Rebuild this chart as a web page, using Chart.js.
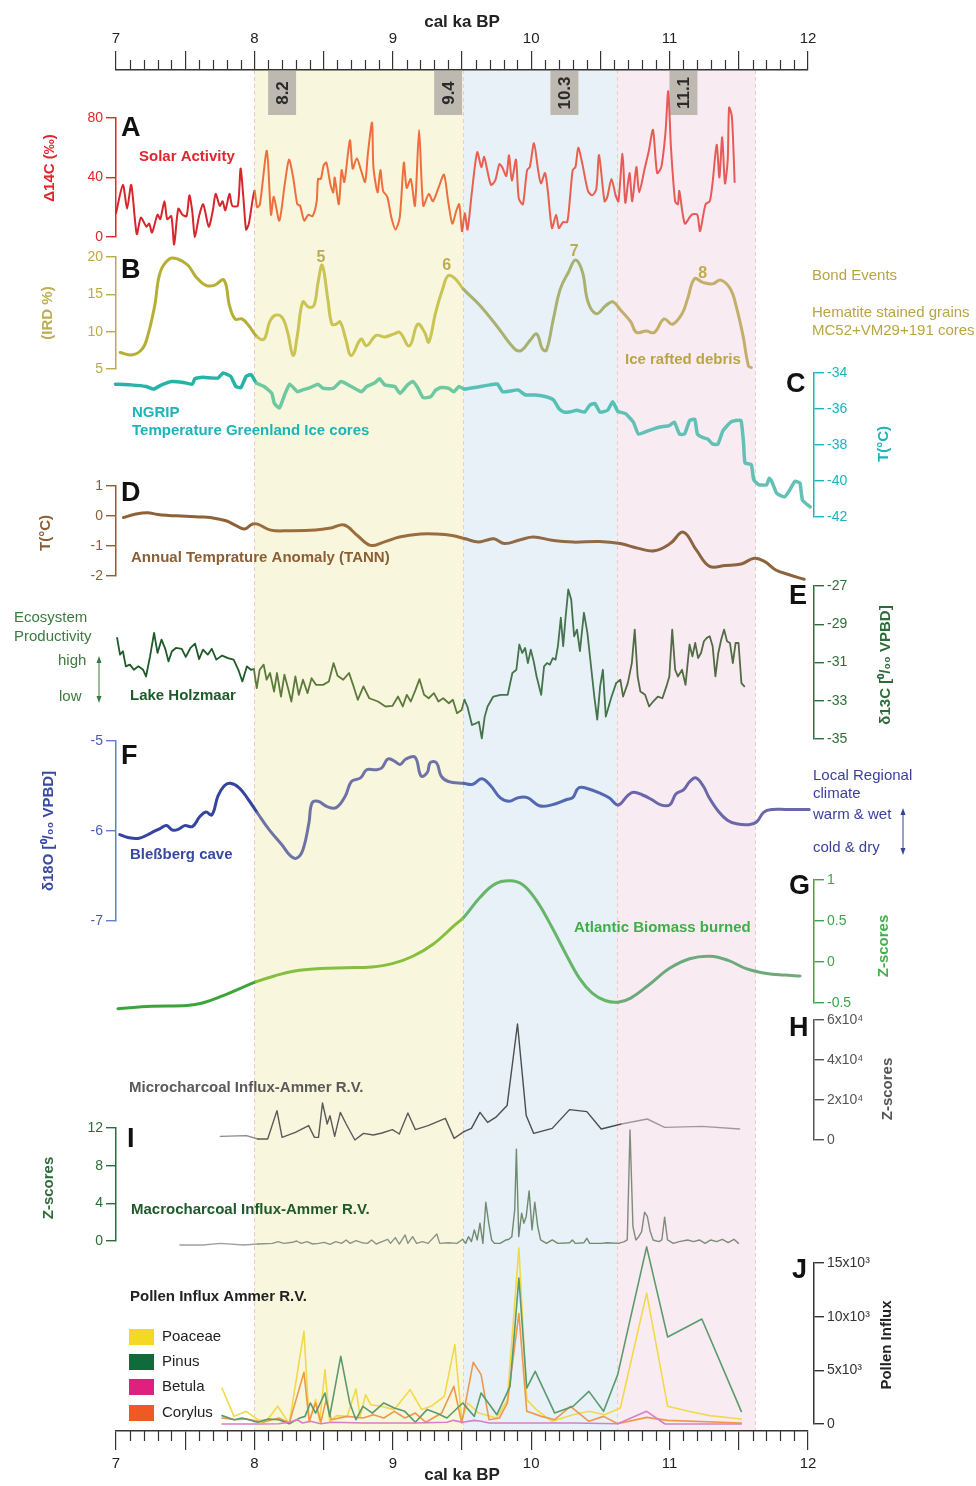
<!DOCTYPE html>
<html>
<head>
<meta charset="utf-8">
<script src="https://cdn.jsdelivr.net/npm/chart.js@4.4.1/dist/chart.umd.min.js"></script>
<style>
  body { margin: 0; background: #fff; }
  #wrap { position: relative; width: 976px; height: 1486px; }
  #wrap canvas { position: absolute; left: 0; top: 0; }
</style>
</head>
<body>
<div id="wrap"></div>
<script>
// ---- data (age in cal ka BP, value) ----
const bandEdges = [8.0, 9.51, 10.62, 11.62];
const eventLabels = ["8.2", "9.4", "10.3", "11.1"];
const eventAges = [8.2, 9.4, 10.24, 11.1];

// A - solar activity, delta 14C (permil)
const solar = [[7.00,16],[7.05,35],[7.08,19],[7.11,35],[7.15,2],[7.18,13],[7.22,7],[7.24,9],[7.26,3],[7.30,15],[7.32,12],[7.35,24],[7.37,12],[7.40,14],[7.42,-5],[7.45,19],[7.48,15],[7.51,14],[7.53,28],[7.55,18],[7.57,0],[7.60,14],[7.63,22],[7.67,7],[7.70,18],[7.72,29],[7.75,21],[7.77,24],[7.79,18],[7.82,29],[7.84,21],[7.88,21],[7.90,46],[7.92,27],[7.94,5],[7.96,9],[8.00,31],[8.02,20],
  [8.04,22],[8.09,58],[8.12,15],[8.14,27],[8.18,11],[8.22,36],[8.25,52],[8.28,40],[8.31,22],[8.33,21],[8.36,11],[8.39,15],[8.42,14],[8.45,24],[8.46,39],[8.48,39],[8.50,48],[8.52,50],[8.55,35],[8.57,30],[8.58,40],[8.61,22],[8.63,45],[8.65,37],[8.69,65],[8.71,46],[8.74,53],[8.77,45],[8.80,37],[8.82,56],[8.85,77],[8.86,47],[8.89,30],[8.91,45],[8.93,31],[8.96,27],[8.99,13],[9.02,5],[9.05,13],[9.08,50],[9.10,33],[9.13,39],[9.16,21],[9.19,72],[9.22,21],[9.26,29],[9.29,24],[9.33,33],[9.37,42],[9.40,24],[9.43,9],[9.46,18],[9.48,22],[9.50,4],
  [9.52,16],[9.54,5],[9.57,29],[9.61,57],[9.64,47],[9.66,54],[9.68,46],[9.71,35],[9.74,38],[9.77,49],[9.79,47],[9.82,41],[9.84,55],[9.86,38],[9.89,52],[9.91,26],[9.94,22],[9.97,45],[9.99,47],[10.02,63],[10.05,45],[10.07,36],[10.10,43],[10.12,31],[10.15,6],[10.18,15],[10.20,6],[10.23,10],[10.26,10],[10.28,26],[10.30,45],[10.32,47],[10.34,60],[10.37,49],[10.41,31],[10.44,28],[10.47,32],[10.49,55],[10.53,24],[10.55,27],[10.58,39],[10.61,28],[10.63,24],
  [10.66,56],[10.68,23],[10.71,43],[10.73,24],[10.76,47],[10.78,30],[10.82,46],[10.85,58],[10.88,72],[10.91,43],[10.94,47],[10.97,70],[10.99,98],[11.01,60],[11.04,24],[11.06,22],[11.07,31],[11.11,9],[11.16,15],[11.20,15],[11.22,4],[11.26,22],[11.29,24],[11.31,36],[11.34,62],[11.36,40],[11.38,67],[11.40,36],[11.42,52],[11.43,87],[11.45,81],[11.47,37]];

// B - ice rafted debris (IRD %)
const ird = [[7.03,7.2],[7.12,6.9],[7.19,7.7],[7.23,9.5],[7.28,13.5],[7.32,18],[7.39,19.8],[7.45,19.7],[7.52,18.9],[7.58,17.3],[7.65,16.2],[7.71,16.2],[7.78,16.9],[7.82,13.5],[7.86,11.7],[7.91,11.7],[7.96,10.8],[8.02,9.3],[8.07,9.0],[8.11,11.3],[8.15,12.2],[8.20,11.9],[8.24,9.9],[8.28,6.8],[8.31,9.5],[8.35,14],[8.39,13.3],[8.43,13.5],[8.46,16.6],[8.49,18.9],[8.53,14.4],[8.56,11],[8.59,11],[8.62,11.3],[8.66,9],[8.70,6.8],[8.77,9],[8.81,8.1],[8.88,9.5],[8.94,9.3],[9.01,9.7],[9.05,9.9],[9.12,8.1],[9.18,11],[9.23,9.9],[9.26,8.6],[9.31,12.6],[9.36,15.7],[9.40,17.5],[9.45,17.1],[9.51,15.7],[9.62,13.7],[9.75,10.8],[9.88,7.7],[9.93,7.5],[9.99,8.8],[10.04,9.7],[10.08,7.7],[10.11,7.5],[10.16,11.7],[10.21,15.7],[10.27,18],[10.32,19.6],[10.37,18],[10.41,14],[10.47,12.4],[10.54,13.5],[10.59,14],[10.65,12.8],[10.72,11.3],[10.76,9.9],[10.83,10.1],[10.89,9.9],[10.96,11.7],[11.02,11],[11.09,12.4],[11.13,14.4],[11.18,17.1],[11.24,16.6],[11.31,16.4],[11.37,16.9],[11.44,15.7],[11.48,13.5],[11.53,9.5],[11.57,5.4],[11.59,5.2]];

// C - NGRIP temperature (deg C)
const ngrip = [[6.996,-34.62],[7.107,-34.66],[7.218,-34.75],[7.273,-34.89],[7.329,-34.66],[7.403,-34.47],[7.477,-34.51],[7.551,-34.62],[7.570,-34.32],[7.625,-34.24],[7.737,-34.28],[7.774,-34.0],[7.829,-34.19],[7.866,-34.75],[7.903,-34.81],[7.940,-34.19],[7.977,-34.09],[8.014,-34.56],[8.070,-34.75],[8.126,-35.13],[8.144,-35.69],[8.181,-35.94],[8.218,-35.22],[8.255,-34.62],[8.311,-35.04],[8.348,-34.94],[8.403,-34.81],[8.459,-34.62],[8.496,-34.85],[8.570,-34.85],[8.626,-34.47],[8.700,-34.75],[8.774,-35.04],[8.811,-34.75],[8.867,-34.56],[8.904,-34.32],[8.941,-34.66],[9.015,-34.75],[9.052,-35.13],[9.107,-34.66],[9.145,-34.47],[9.182,-34.85],[9.219,-35.37],[9.274,-35.32],[9.311,-34.94],[9.348,-34.81],[9.404,-34.85],[9.441,-35.04],[9.478,-34.75],[9.515,-34.89],[9.589,-34.81],[9.700,-34.66],[9.756,-34.62],[9.793,-35.04],[9.848,-35.0],[9.904,-34.94],[9.960,-35.22],[10.034,-35.22],[10.108,-35.32],[10.163,-35.51],[10.200,-35.98],[10.237,-36.17],[10.275,-36.17],[10.330,-36.07],[10.386,-36.17],[10.423,-35.79],[10.460,-35.69],[10.497,-36.17],[10.552,-36.07],[10.589,-35.60],[10.626,-36.13],[10.682,-36.26],[10.738,-36.73],[10.775,-37.39],[10.849,-37.20],[10.923,-37.01],[10.997,-36.92],[11.034,-36.73],[11.071,-37.39],[11.108,-37.39],[11.145,-36.64],[11.182,-36.58],[11.201,-37.39],[11.238,-37.58],[11.275,-37.67],[11.312,-37.95],[11.349,-37.95],[11.386,-37.20],[11.442,-36.73],[11.479,-36.64],[11.516,-36.64],[11.534,-37.86],[11.545,-38.99],[11.590,-39.08],[11.608,-39.93],[11.645,-40.21],[11.701,-40.21],[11.720,-39.84],[11.738,-40.02],[11.775,-40.69],[11.831,-40.88],[11.868,-40.50],[11.905,-40.02],[11.942,-40.12],[11.960,-41.06],[12.016,-41.44]];

// D - annual temperature anomaly TANN (deg C)
const tann = [[7.054,-0.05],[7.130,0.05],[7.225,0.11],[7.301,0.05],[7.377,0.02],[7.472,0],[7.605,-0.03],[7.681,-0.05],[7.795,-0.16],[7.871,-0.33],[7.928,-0.43],[7.985,-0.27],[8.023,-0.27],[8.118,-0.47],[8.251,-0.49],[8.441,-0.47],[8.555,-0.40],[8.649,-0.30],[8.744,-0.65],[8.839,-0.98],[8.934,-0.87],[9.048,-0.70],[9.200,-0.60],[9.314,-0.60],[9.428,-0.65],[9.523,-0.76],[9.618,-0.87],[9.675,-0.81],[9.732,-0.76],[9.808,-0.92],[9.922,-0.79],[10.017,-0.70],[10.150,-0.81],[10.302,-0.87],[10.492,-0.85],[10.643,-0.92],[10.776,-1.08],[10.890,-1.16],[11.004,-0.92],[11.099,-0.54],[11.194,-1.14],[11.289,-1.68],[11.403,-1.65],[11.517,-1.60],[11.612,-1.41],[11.688,-1.52],[11.764,-1.79],[11.859,-1.95],[11.973,-2.11]];

// E - Lake Holzmaar d13C (permil VPDB)
const holzmaar = [[7.008,-29.71],[7.029,-30.59],[7.050,-30.41],[7.071,-31.20],[7.100,-31.11],[7.129,-31.38],[7.162,-31.20],[7.196,-31.38],[7.217,-31.73],[7.246,-30.68],[7.275,-29.45],[7.300,-30.50],[7.329,-29.80],[7.358,-30.33],[7.379,-30.94],[7.404,-30.41],[7.433,-30.24],[7.475,-30.29],[7.504,-30.71],[7.538,-30.24],[7.571,-30.01],[7.600,-30.82],[7.629,-30.33],[7.663,-30.59],[7.692,-30.28],[7.725,-30.85],[7.767,-30.64],[7.809,-30.77],[7.850,-30.85],[7.884,-31.38],[7.913,-31.99],[7.946,-31.20],[7.975,-31.38],[7.996,-31.34],[8.017,-32.34],[8.038,-31.38],[8.067,-31.11],[8.088,-31.90],[8.113,-31.55],[8.142,-32.52],[8.163,-31.55],[8.192,-32.78],[8.217,-31.64],[8.246,-32.43],[8.267,-33.04],[8.296,-31.73],[8.321,-32.69],[8.351,-31.90],[8.384,-32.60],[8.413,-31.82],[8.446,-32.17],[8.496,-32.17],[8.538,-31.99],[8.572,-31.03],[8.601,-31.69],[8.642,-31.90],[8.684,-31.55],[8.713,-32.17],[8.747,-32.95],[8.788,-32.25],[8.830,-32.87],[8.893,-33.04],[8.947,-33.30],[8.997,-33.27],[9.038,-32.78],[9.072,-33.30],[9.101,-32.69],[9.130,-33.04],[9.164,-32.43],[9.193,-31.87],[9.226,-32.69],[9.259,-32.87],[9.297,-32.60],[9.330,-33.04],[9.364,-32.87],[9.405,-33.13],[9.434,-32.95],[9.464,-33.65],[9.497,-33.48],[9.518,-32.95],[9.539,-33.30],[9.572,-34.27],[9.601,-34.18],[9.622,-34.10],[9.643,-34.97],[9.664,-33.83],[9.685,-33.30],[9.726,-32.78],[9.780,-32.69],[9.830,-32.69],[9.864,-31.55],[9.893,-31.38],[9.914,-30.06],[9.935,-30.50],[9.956,-30.24],[9.976,-31.03],[9.997,-30.33],[10.018,-30.94],[10.039,-31.73],[10.072,-32.69],[10.093,-31.20],[10.114,-31.03],[10.135,-31.11],[10.156,-30.77],[10.176,-30.85],[10.193,-30.15],[10.214,-28.66],[10.231,-30.15],[10.247,-28.75],[10.268,-27.18],[10.289,-27.70],[10.310,-29.63],[10.331,-29.28],[10.352,-30.41],[10.381,-28.40],[10.406,-29.45],[10.435,-31.38],[10.456,-32.78],[10.477,-33.99],[10.498,-32.25],[10.518,-31.38],[10.539,-33.83],[10.560,-33.30],[10.581,-32.78],[10.614,-32.08],[10.644,-31.90],[10.664,-32.78],[10.698,-32.08],[10.727,-31.03],[10.748,-29.28],[10.769,-31.73],[10.789,-32.52],[10.823,-32.69],[10.852,-33.30],[10.881,-33.04],[10.915,-32.78],[10.948,-32.87],[10.977,-32.25],[10.998,-31.73],[11.019,-29.28],[11.040,-31.38],[11.060,-31.73],[11.090,-31.38],[11.115,-32.17],[11.144,-30.06],[11.165,-30.68],[11.185,-29.98],[11.206,-30.77],[11.227,-30.50],[11.248,-29.89],[11.269,-29.71],[11.290,-29.63],[11.311,-30.15],[11.331,-31.73],[11.352,-30.50],[11.373,-29.80],[11.394,-29.28],[11.415,-29.89],[11.436,-29.98],[11.457,-31.03],[11.477,-29.98],[11.498,-29.98],[11.519,-32.08],[11.540,-32.25]];

// F - Blessberg cave d18O (permil VPDB)
const blessberg = [[7.027,-6.04],[7.080,-6.07],[7.167,-6.08],[7.255,-6.02],[7.321,-5.97],[7.365,-5.94],[7.408,-5.99],[7.452,-5.98],[7.496,-5.94],[7.553,-5.95],[7.606,-5.84],[7.649,-5.79],[7.693,-5.82],[7.737,-5.61],[7.781,-5.50],[7.825,-5.47],[7.890,-5.52],[7.956,-5.65],[8.022,-5.80],[8.109,-5.99],[8.197,-6.15],[8.263,-6.28],[8.307,-6.30],[8.350,-6.21],[8.394,-5.91],[8.416,-5.69],[8.460,-5.67],[8.526,-5.73],[8.591,-5.74],[8.657,-5.61],[8.701,-5.45],[8.767,-5.41],[8.811,-5.32],[8.876,-5.32],[8.920,-5.30],[8.964,-5.20],[9.008,-5.22],[9.052,-5.26],[9.095,-5.20],[9.161,-5.18],[9.205,-5.39],[9.249,-5.35],[9.271,-5.24],[9.315,-5.24],[9.350,-5.39],[9.402,-5.45],[9.512,-5.47],[9.577,-5.48],[9.643,-5.42],[9.709,-5.50],[9.775,-5.63],[9.840,-5.67],[9.906,-5.63],[9.972,-5.63],[10.059,-5.72],[10.147,-5.71],[10.257,-5.65],[10.300,-5.63],[10.344,-5.52],[10.410,-5.53],[10.498,-5.58],[10.563,-5.63],[10.629,-5.71],[10.695,-5.61],[10.739,-5.57],[10.804,-5.60],[10.870,-5.65],[10.936,-5.71],[11.001,-5.71],[11.045,-5.59],[11.102,-5.54],[11.146,-5.45],[11.190,-5.41],[11.243,-5.50],[11.286,-5.63],[11.352,-5.78],[11.418,-5.88],[11.484,-5.92],[11.571,-5.93],[11.628,-5.90],[11.681,-5.79],[11.746,-5.76],[11.834,-5.76],[12.009,-5.76]];

// G - Atlantic biomass burned (z-scores)
const biomass = [[7.014,-0.57],[7.255,-0.54],[7.514,-0.53],[7.625,-0.50],[7.774,-0.41],[7.885,-0.33],[8.014,-0.24],[8.144,-0.17],[8.292,-0.11],[8.478,-0.08],[8.663,-0.07],[8.848,-0.06],[8.996,-0.02],[9.145,0.07],[9.293,0.22],[9.441,0.44],[9.515,0.55],[9.626,0.78],[9.737,0.95],[9.848,0.99],[9.941,0.94],[10.034,0.76],[10.145,0.44],[10.256,0.08],[10.349,-0.20],[10.441,-0.38],[10.534,-0.47],[10.627,-0.49],[10.719,-0.44],[10.849,-0.28],[10.997,-0.08],[11.145,0.04],[11.293,0.07],[11.423,0.02],[11.553,-0.08],[11.701,-0.14],[11.830,-0.16],[11.942,-0.17]];

// H - microcharcoal influx, Ammer R.V.
const microCharcoal = [[7.754,1800],[7.942,2200],[8.025,500],[8.096,500],[8.163,14700],[8.200,1300],[8.296,3800],[8.392,7200],[8.434,1300],[8.463,1300],[8.492,18500],[8.526,8000],[8.546,12200],[8.580,1800],[8.621,13800],[8.663,8000],[8.726,0],[8.788,3300],[8.859,2500],[8.922,3500],[8.997,5200],[9.047,3000],[9.109,13500],[9.163,5200],[9.255,7200],[9.380,10800],[9.443,800],[9.514,4200],[9.568,5800],[9.630,13800],[9.685,8800],[9.743,11300],[9.826,17200],[9.901,58000],[9.964,12200],[10.018,3300],[10.152,5800],[10.277,15200],[10.402,14200],[10.506,5500],[10.652,8000],[10.839,10500],[10.964,6300],[11.235,6800],[11.506,5500]];

// I - macrocharcoal influx, Ammer R.V. (z-scores)
const macroCharcoal = [[7.462,-0.43],[7.629,-0.43],[7.754,-0.25],[7.921,-0.43],[8.025,-0.32],[8.130,-0.25],[8.171,-0.07],[8.213,-0.25],[8.275,-0.14],[8.305,0],[8.338,-0.25],[8.380,-0.07],[8.421,-0.32],[8.463,-0.25],[8.505,-0.14],[8.546,-0.36],[8.588,-0.07],[8.630,-0.25],[8.663,0.11],[8.692,-0.25],[8.734,0.04],[8.776,-0.18],[8.817,-0.25],[8.847,0.11],[8.880,-0.32],[8.922,-0.07],[8.963,0.18],[8.984,-0.25],[9.018,0.36],[9.047,-0.32],[9.089,0.64],[9.109,-0.25],[9.143,0.46],[9.172,-0.25],[9.214,-0.07],[9.255,-0.25],[9.318,0.75],[9.339,-0.25],[9.401,-0.18],[9.464,-0.25],[9.505,0.18],[9.526,-0.25],[9.547,0.46],[9.568,-0.07],[9.589,1.18],[9.610,0.11],[9.630,1.89],[9.651,-0.25],[9.672,4.11],[9.693,1.89],[9.714,0.11],[9.735,-0.25],[9.776,-0.25],[9.818,0.11],[9.839,0.18],[9.860,0.46],[9.881,3.32],[9.893,9.75],[9.910,0.46],[9.931,2.96],[9.947,1.89],[9.964,2.61],[9.985,5.32],[10.006,1.18],[10.026,4.11],[10.047,1.54],[10.068,0.11],[10.110,-0.25],[10.152,0.11],[10.193,-0.25],[10.277,-0.18],[10.298,0.11],[10.318,-0.25],[10.381,-0.18],[10.402,0.29],[10.423,-0.25],[10.506,-0.25],[10.548,-0.18],[10.631,-0.25],[10.673,-0.07],[10.694,0.11],[10.714,11.79],[10.735,1.54],[10.756,0.11],[10.777,0.46],[10.798,1.0],[10.819,3.07],[10.839,2.61],[10.860,1.0],[10.881,0.11],[10.923,-0.07],[10.944,0.11],[10.964,2.54],[10.985,0.11],[11.027,-0.25],[11.069,-0.07],[11.131,0.11],[11.173,-0.07],[11.215,0.11],[11.256,-0.25],[11.298,0.11],[11.340,-0.07],[11.381,0.18],[11.423,-0.18],[11.465,0.18],[11.498,-0.25]];

// J - pollen influx, Ammer R.V.
const pollenTaxa = ["Poaceae", "Pinus", "Betula", "Corylus"];
const poaceae = [[7.766,3350],[7.853,710],[7.940,1180],[8.024,400],[8.092,340],[8.168,1650],[8.252,30],[8.358,8630],[8.396,160],[8.442,2270],[8.472,250],[8.510,5060],[8.544,250],[8.594,780],[8.670,710],[8.734,3260],[8.764,710],[8.803,2730],[8.840,1800],[8.916,1650],[9.011,1340],[9.125,3200],[9.209,1340],[9.277,1650],[9.372,2580],[9.448,7390],[9.498,400],[9.543,1960],[9.619,1020],[9.752,560],[9.828,2270],[9.911,16400],[9.968,2270],[10.037,1340],[10.151,250],[10.303,870],[10.417,1180],[10.530,870],[10.644,1490],[10.834,12200],[10.986,1650],[11.138,1180],[11.290,780],[11.518,470]];
const pinus = [[7.766,780],[7.853,400],[7.910,560],[8.024,160],[8.100,470],[8.176,400],[8.252,30],[8.328,560],[8.366,710],[8.404,1960],[8.442,1020],[8.510,2890],[8.544,710],[8.624,6300],[8.689,1960],[8.734,400],[8.784,1650],[8.852,1020],[8.935,1960],[9.011,1490],[9.087,1180],[9.163,160],[9.247,1340],[9.315,1020],[9.391,560],[9.505,1960],[9.589,710],[9.638,2890],[9.752,870],[9.847,3510],[9.911,13600],[9.968,3350],[10.029,4910],[10.170,1020],[10.303,1650],[10.417,3040],[10.523,1180],[10.625,4600],[10.682,7860],[10.834,16500],[10.986,8100],[11.233,9780],[11.518,1180]];
const betula = [[7.766,0],[8.024,0],[8.176,30],[8.252,160],[8.309,400],[8.347,90],[8.404,250],[8.480,30],[8.556,160],[8.784,90],[9.163,90],[9.391,160],[9.437,340],[9.505,160],[9.589,340],[9.638,250],[9.695,90],[9.923,90],[10.303,90],[10.625,30],[10.834,1180],[10.967,0],[11.518,0]];
const corylus = [[7.766,560],[7.864,400],[7.948,470],[8.062,160],[8.176,560],[8.252,90],[8.358,4810],[8.396,250],[8.442,1960],[8.480,160],[8.518,2270],[8.556,400],[8.670,710],[8.784,560],[8.860,870],[8.935,560],[9.011,1180],[9.087,560],[9.163,1020],[9.239,160],[9.353,1020],[9.441,3510],[9.498,90],[9.581,5750],[9.638,4600],[9.695,400],[9.771,560],[9.828,1960],[9.911,10300],[9.968,1180],[10.075,710],[10.170,400],[10.284,1650],[10.417,250],[10.523,710],[10.625,30],[10.834,620],[10.986,340],[11.518,90]];

// ---- layout ----
const W = 976, H = 1486;
const X_LEFT = 116, X_RIGHT = 808, X_RIGHT_AXIS = 814;
const AXIS_BOX = 60;
const FONT = "'Liberation Sans', Arial, sans-serif";
const wrap = document.getElementById('wrap');

function addCanvas() {
  const c = document.createElement('canvas');
  c.width = W; c.height = H;
  c.style.width = W + 'px'; c.style.height = H + 'px';
  wrap.appendChild(c);
  return c.getContext('2d');
}

function pts(pairs) { return pairs.map(p => ({ x: p[0], y: p[1] })); }

// colour each segment by the climate band it falls in
function byBand(colors) {
  return c => {
    const x = (c.p0.parsed.x + c.p1.parsed.x) / 2;
    let i = 0;
    while (i < 3 && x >= bandEdges[i]) i++;
    return colors[i];
  };
}

function line(pairs, colors, extra) {
  return Object.assign({
    data: pts(pairs),
    borderColor: colors[0],
    segment: { borderColor: byBand(colors) }
  }, extra || {});
}

function panel(p) {
  const left = p.side === 'left';
  const pxPerKa = (X_RIGHT - X_LEFT) / 5;
  const xMax = left ? 12 : 12 + (X_RIGHT_AXIS - X_RIGHT) / pxPerKa;
  new Chart(addCanvas(), {
    type: 'line',
    data: {
      datasets: p.datasets.map(d => Object.assign({
        pointRadius: 0, clip: false, fill: false,
        borderWidth: p.width, tension: p.tension,
        borderJoinStyle: 'round', borderCapStyle: 'round'
      }, d))
    },
    options: {
      responsive: false, animation: false, events: [],
      layout: { padding: {
        top: p.top, bottom: H - p.bottom,
        left: left ? X_LEFT - AXIS_BOX : X_LEFT,
        right: left ? W - X_RIGHT : W - X_RIGHT_AXIS - AXIS_BOX
      } },
      plugins: { legend: { display: false }, tooltip: { enabled: false } },
      scales: {
        x: { type: 'linear', min: 7, max: xMax, display: false },
        y: {
          position: p.side, min: p.min, max: p.max,
          afterFit: s => { s.width = AXIS_BOX; },
          border: { color: p.axis, width: 1.5 },
          grid: { drawOnChartArea: false, color: p.axis, tickLength: 10, lineWidth: 1.4 },
          ticks: {
            stepSize: p.step, color: p.tickColor || p.axis, padding: 3,
            font: { family: FONT, size: 14 },
            callback: p.format || (v => v)
          }
        }
      }
    }
  });
}

// ---- plugins for the base layer ----
const bandsPlugin = {
  id: 'bands',
  beforeDraw(chart) {
    const { ctx, chartArea: a } = chart;
    const xs = chart.scales.xTop;
    const fills = ['#f9f6de', '#e7f1f7', '#f8ecf2'];
    ctx.save();
    for (let i = 0; i < 3; i++) {
      const x0 = xs.getPixelForValue(bandEdges[i]);
      const x1 = xs.getPixelForValue(bandEdges[i + 1]);
      ctx.fillStyle = fills[i];
      ctx.fillRect(x0, a.top, x1 - x0, a.bottom - a.top);
    }
    ctx.setLineDash([4, 3]);
    ctx.strokeStyle = '#f1cbbd';
    ctx.lineWidth = 1;
    bandEdges.forEach(e => {
      const x = Math.round(xs.getPixelForValue(e)) + 0.5;
      ctx.beginPath(); ctx.moveTo(x, a.top); ctx.lineTo(x, a.bottom); ctx.stroke();
    });
    ctx.restore();
  }
};

const minorTicks = {
  id: 'minorTicks',
  afterDraw(chart) {
    const ctx = chart.ctx;
    ctx.save();
    ctx.strokeStyle = '#333';
    ctx.lineWidth = 1.2;
    ['xTop', 'xBottom'].forEach(id => {
      const s = chart.scales[id];
      const y = id === 'xTop' ? s.bottom : s.top;
      const dir = id === 'xTop' ? -1 : 1;
      for (let i = 1; i < 50; i++) {
        if (i % 5 === 0) continue;
        const px = Math.round(s.getPixelForValue(7 + i / 10)) + 0.5;
        ctx.beginPath(); ctx.moveTo(px, y); ctx.lineTo(px, y + dir * 10); ctx.stroke();
      }
    });
    ctx.restore();
  }
};

// text: [text, x, y, size, bold, colour, rotated]
const notes = [
  ['A', 121, 129, 27, true, '#111'], ['B', 121, 271, 27, true, '#111'], ['C', 786, 385, 27, true, '#111'],
  ['D', 121, 494, 27, true, '#111'], ['E', 789, 597, 27, true, '#111'], ['F', 121, 757, 27, true, '#111'],
  ['G', 789, 887, 27, true, '#111'], ['H', 789, 1029, 27, true, '#111'], ['I', 127, 1140, 27, true, '#111'],
  ['J', 792, 1271, 27, true, '#111'],
  ['Solar Activity', 139, 157, 15, true, '#e0262d'],
  ['Δ14C (‰)', 50, 168, 15, true, '#e0262d', true],
  ['(IRD %)', 48, 313, 15, true, '#bcae52', true],
  ['Ice rafted debris', 625, 360, 15, true, '#b9a544'],
  ['Bond Events', 812, 276, 15, false, '#b9a544'],
  ['Hematite stained grains', 812, 313, 15, false, '#b9a544'],
  ['MC52+VM29+191 cores', 812, 331, 15, false, '#b9a544'],
  ['NGRIP', 132, 413, 15, true, '#1ab5b8'],
  ['Temperature Greenland Ice cores', 132, 431, 15, true, '#1ab5b8'],
  ['T(°C)', 884, 444, 15, true, '#1ab5b8', true],
  ['T(°C)', 46, 533, 15, true, '#8b5e34', true],
  ['Annual Temprature Anomaly (TANN)', 131, 558, 15, true, '#8b5e34'],
  ['Ecosystem', 14, 618, 15, false, '#3c7a3e'],
  ['Productivity', 14, 637, 15, false, '#3c7a3e'],
  ['high', 58, 661, 15, false, '#3c7a3e'],
  ['low', 59, 697, 15, false, '#3c7a3e'],
  ['Lake Holzmaar', 130, 696, 15, true, '#1f5a2a'],
  ['δ13C [⁰/₀₀ VPBD]', 886, 665, 15, true, '#2e6b3a', true],
  ['δ18O [⁰/₀₀ VPBD]', 49, 831, 15, true, '#3a49a0', true],
  ['Bleßberg cave', 130, 855, 15, true, '#3a49a0'],
  ['Local Regional', 813, 776, 15, false, '#3b3f9c'],
  ['climate', 813, 794, 15, false, '#3b3f9c'],
  ['warm & wet', 813, 815, 15, false, '#3b3f9c'],
  ['cold & dry', 813, 848, 15, false, '#3b3f9c'],
  ['Atlantic Biomass burned', 574, 928, 15, true, '#3fae48'],
  ['Z-scores', 884, 946, 15, true, '#46ae4c', true],
  ['Microcharcoal Influx-Ammer R.V.', 129, 1088, 15, true, '#5a5a5a'],
  ['Z-scores', 888, 1089, 15, true, '#555', true],
  ['Macrocharcoal Influx-Ammer R.V.', 131, 1210, 15, true, '#1e5a2a'],
  ['Z-scores', 49, 1188, 15, true, '#2e6a3a', true],
  ['Pollen Influx Ammer R.V.', 130, 1297, 15, true, '#222'],
  ['Pollen Influx', 887, 1345, 15, true, '#222', true]
];
const bondNumbers = [['5', 8.48, 258], ['6', 9.39, 266], ['7', 10.31, 252], ['8', 11.24, 274]];
const swatchColors = ['#f4d923', '#0f6b3a', '#e0207f', '#ee5a24'];
const swatchRows = [1337, 1362, 1387, 1413];

function arrow(ctx, x, y0, y1, color) {
  ctx.strokeStyle = color; ctx.fillStyle = color; ctx.lineWidth = 1;
  ctx.beginPath(); ctx.moveTo(x, y0 + 4); ctx.lineTo(x, y1 - 4); ctx.stroke();
  [[y0, 1], [y1, -1]].forEach(([y, d]) => {
    ctx.beginPath(); ctx.moveTo(x, y); ctx.lineTo(x - 2.5, y + d * 7); ctx.lineTo(x + 2.5, y + d * 7);
    ctx.closePath(); ctx.fill();
  });
}

const textPlugin = {
  id: 'texts',
  afterDraw(chart) {
    const ctx = chart.ctx;
    const xs = chart.scales.xTop;
    ctx.save();
    // grey event boxes
    eventAges.forEach((a, i) => {
      const cx = xs.getPixelForValue(a);
      ctx.fillStyle = '#bdb9b1';
      ctx.fillRect(cx - 14, 71, 28, 44);
      ctx.save();
      ctx.translate(cx, 93);
      ctx.rotate(-Math.PI / 2);
      ctx.fillStyle = '#2a2a2a';
      ctx.font = 'bold 17px ' + FONT;
      ctx.textAlign = 'center'; ctx.textBaseline = 'middle';
      ctx.fillText(eventLabels[i], 0, 1);
      ctx.restore();
    });
    ctx.textBaseline = 'middle';
    notes.forEach(n => {
      ctx.font = (n[4] ? 'bold ' : '') + n[3] + 'px ' + FONT;
      ctx.fillStyle = n[5];
      if (n[6]) {
        ctx.save();
        ctx.translate(n[1], n[2]);
        ctx.rotate(-Math.PI / 2);
        ctx.textAlign = 'center';
        ctx.fillText(n[0], 0, 0);
        ctx.restore();
      } else {
        ctx.textAlign = 'left';
        ctx.fillText(n[0], n[1], n[2]);
      }
    });
    ctx.font = 'bold 16px ' + FONT;
    ctx.fillStyle = '#bcac52';
    ctx.textAlign = 'center';
    bondNumbers.forEach(b => ctx.fillText(b[0], xs.getPixelForValue(b[1]), b[2]));
    // pollen legend
    ctx.font = '15px ' + FONT;
    ctx.textAlign = 'left';
    pollenTaxa.forEach((t, i) => {
      ctx.fillStyle = swatchColors[i];
      ctx.fillRect(129, swatchRows[i] - 8, 25, 16);
      ctx.fillStyle = '#222';
      ctx.fillText(t, 162, swatchRows[i]);
    });
    arrow(ctx, 99, 656, 703, '#3c7a3e');
    arrow(ctx, 903, 808, 855, '#3b3f9c');
    ctx.restore();
  }
};

// ---- base layer: bands, top and bottom age axes ----
const ageAxis = (pos) => ({
  type: 'linear', position: pos, min: 7, max: 12,
  afterFit: s => { s.height = pos === 'top' ? 70 : H - 1431; },
  border: { color: '#333', width: 1.5 },
  grid: { drawOnChartArea: false, color: '#333', tickLength: 19, lineWidth: 1.2 },
  ticks: {
    stepSize: 0.5, autoSkip: false, maxRotation: 0, padding: pos === 'top' ? 3 : 5,
    color: '#222', font: { family: FONT, size: 15 },
    callback: v => Number.isInteger(v) ? v : ''
  },
  title: {
    display: true, text: 'cal ka BP', color: '#222',
    font: { family: FONT, size: 17, weight: 'bold' },
    padding: pos === 'top' ? { top: 12, bottom: 0 } : { top: 0, bottom: 0 }
  }
});

new Chart(addCanvas(), {
  type: 'line',
  data: { datasets: [] },
  options: {
    responsive: false, animation: false, events: [],
    layout: { padding: { left: X_LEFT, right: W - X_RIGHT, top: 0, bottom: 0 } },
    plugins: { legend: { display: false }, tooltip: { enabled: false } },
    scales: {
      xTop: ageAxis('top'),
      xBottom: ageAxis('bottom'),
      y: { display: false, min: 0, max: 1 }
    }
  },
  plugins: [bandsPlugin, minorTicks, textPlugin]
});

// ---- panels ----
panel({ side: 'left', top: 118, bottom: 237, min: 0, max: 80, step: 40, axis: '#e0262d', width: 2, tension: 0.25,
  datasets: [line(solar, ['#d7252c', '#ee6e3d', '#e8604e', '#e65a57'])] });

panel({ side: 'left', top: 257, bottom: 369, min: 5, max: 20, step: 5, axis: '#b8ab48', width: 3, tension: 0.4,
  datasets: [line(ird, ['#b5b035', '#c9c453', '#a9b070', '#c3ae6c'])] });

panel({ side: 'right', top: 373, bottom: 517, min: -42, max: -34, step: 2, axis: '#1ab5b8', width: 3.5, tension: 0.15,
  datasets: [line(ngrip, ['#27b4a6', '#6cc9a0', '#55c0b5', '#62c0b4'])] });

panel({ side: 'left', top: 486, bottom: 576, min: -2, max: 1, step: 1, axis: '#8b5e34', width: 3, tension: 0.4,
  datasets: [line(tann, ['#8e6236', '#9a6d3e', '#906a45', '#8c6540'])] });

panel({ side: 'right', top: 586, bottom: 739, min: -35, max: -27, step: 2, axis: '#2e6e3c', width: 1.8, tension: 0,
  datasets: [line(holzmaar, ['#1f5a2a', '#5b7a3b', '#45734a', '#526b45'])] });

panel({ side: 'left', top: 741, bottom: 921, min: -7, max: -5, step: 1, axis: '#5f7fd0', tickColor: '#4a5cb0', width: 3, tension: 0.4,
  datasets: [line(blessberg, ['#34449f', '#6d73a5', '#5368b2', '#6a66aa'])] });

panel({ side: 'right', top: 880, bottom: 1003, min: -0.5, max: 1, step: 0.5, axis: '#3aa54a', width: 3, tension: 0.4,
  datasets: [line(biomass, ['#3da43a', '#86bf3e', '#66b568', '#6da97a'])] });

panel({ side: 'right', top: 1020, bottom: 1140, min: 0, max: 60000, step: 20000, axis: '#555', width: 1.4, tension: 0,
  format: v => v === 0 ? '0' : (v / 10000) + 'x10⁴',
  datasets: [line(microCharcoal, ['#8c8c8c', '#5a5a5a', '#4d4d4d', '#a3979c'])] });

panel({ side: 'left', top: 1128, bottom: 1241, min: 0, max: 12, step: 4, axis: '#2e6a3a', width: 1.4, tension: 0,
  datasets: [line(macroCharcoal, ['#a0a0a0', '#8a9484', '#6f8a70', '#7f8c7c'])] });

panel({ side: 'right', top: 1263, bottom: 1424, min: 0, max: 15000, step: 5000, axis: '#333', width: 1.6, tension: 0,
  format: v => v === 0 ? '0' : (v / 1000) + 'x10³',
  datasets: [
    { label: pollenTaxa[2], data: pts(betula), borderColor: '#d77fc6' },
    { label: pollenTaxa[1], data: pts(pinus), borderColor: '#5a9a6c' },
    { label: pollenTaxa[3], data: pts(corylus), borderColor: '#f0974c' },
    { label: pollenTaxa[0], data: pts(poaceae), borderColor: '#f1d94a' }
  ] });
</script>
</body>
</html>
